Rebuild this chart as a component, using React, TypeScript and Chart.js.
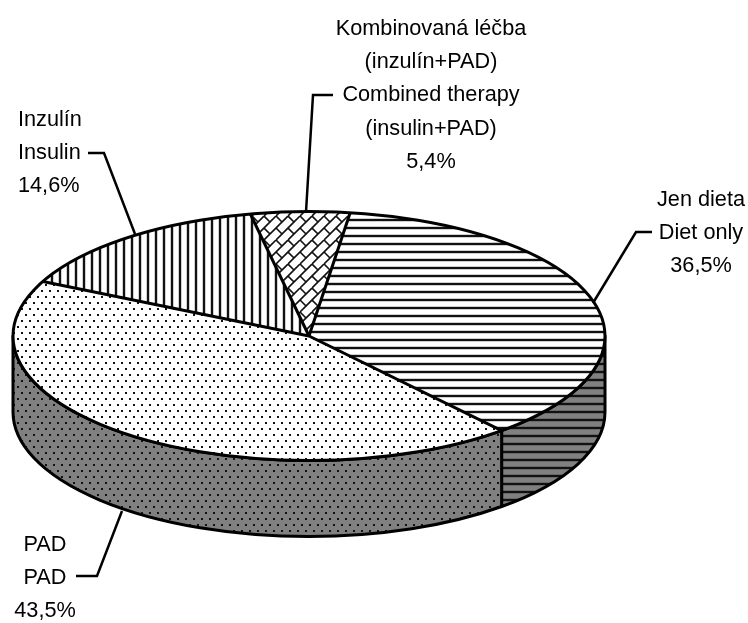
import React, { useEffect, useRef } from "react";
import { Chart, registerables } from "chart.js";

Chart.register(...registerables);

const categories = ["Jen dieta / Diet only", "PAD", "Inzulín / Insulin", "Kombinovaná léčba / Combined therapy"];
const shares = [36.5, 43.5, 14.6, 5.4];
const labelBlocks: { lines: string[]; x: number; y: number; align: CanvasTextAlign }[] = [
  { lines: ["Kombinovaná léčba", "(inzulín+PAD)", "Combined therapy", "(insulin+PAD)", "5,4%"], x: 431, y: 35, align: "center" },
  { lines: ["Inzulín", "Insulin", "14,6%"], x: 18, y: 126, align: "left" },
  { lines: ["Jen dieta", "Diet only", "36,5%"], x: 701, y: 206, align: "center" },
  { lines: ["PAD", "PAD", "43,5%"], x: 45, y: 551, align: "center" },
];
const leaders = [
  [[306, 212], [313, 95], [333, 95]],
  [[135, 234], [104, 153], [88, 153]],
  [[593, 303], [636, 232], [652, 232]],
  [[122, 511], [97, 576], [76, 576]],
];

const SQUASH = 124.5 / 296;
const DEPTH = 76;
const TARGET_Y = 336;

function tile(w: number, h: number, bg: string, draw: (c: CanvasRenderingContext2D) => void) {
  const cv = document.createElement("canvas");
  cv.width = w;
  cv.height = h;
  const c = cv.getContext("2d")!;
  c.fillStyle = bg;
  c.fillRect(0, 0, w, h);
  c.strokeStyle = "#111";
  c.fillStyle = "#111";
  draw(c);
  return c.createPattern(cv, "repeat")!;
}
const hStripes = (bg: string) => tile(8, 8, bg, (c) => { c.lineWidth = 2.4; c.beginPath(); c.moveTo(0, 4); c.lineTo(8, 4); c.stroke(); });
const vStripes = (bg: string) => tile(8, 8, bg, (c) => { c.lineWidth = 2.4; c.beginPath(); c.moveTo(4, 0); c.lineTo(4, 8); c.stroke(); });
const dots = (bg: string) => tile(8, 12, bg, (c) => {
  c.fillRect(1, 2, 2, 2);
  c.fillRect(5, 8, 2, 2);
});
const bricks = (bg: string) => tile(24, 24, bg, (c) => {
  c.lineWidth = 1.6;
  for (const s of [0, 12, 24, 36, 48]) {
    c.beginPath();
    c.moveTo(s - 24, 24);
    c.lineTo(s, 0);
    c.stroke();
  }
  const ticks = [[3, 3], [15, 15], [15, 3], [3, 15]];
  for (const [x, y] of ticks) {
    c.beginPath();
    c.moveTo(x - 3, y - 3);
    c.lineTo(x + 3, y + 3);
    c.stroke();
  }
});

export default function App() {
  const ref = useRef<HTMLCanvasElement>(null);
  useEffect(() => {
    const topPatterns = [hStripes("#fff"), dots("#fff"), vStripes("#fff"), bricks("#fff")];
    const sidePatterns = [hStripes("#808080"), dots("#808080"), vStripes("#808080"), bricks("#808080")];
    const pie3d = {
      id: "pie3d",
      beforeDatasetsDraw(chart: any) {
        const ctx: CanvasRenderingContext2D = chart.ctx;
        const arcs = chart.getDatasetMeta(0).data;
        const { x: cx, outerRadius: rx } = arcs[0];
        const ry = rx * SQUASH;
        ctx.save();
        ctx.lineWidth = 3;
        ctx.strokeStyle = "#000";
        ctx.lineJoin = "round";
        arcs.forEach((arc: any, i: number) => {
          for (const off of [-2 * Math.PI, 0, 2 * Math.PI]) {
            const a0 = Math.max(arc.startAngle + off, 0);
            const a1 = Math.min(arc.endAngle + off, Math.PI);
            if (a1 <= a0) continue;
            ctx.beginPath();
            ctx.ellipse(cx, TARGET_Y, rx, ry, 0, a0, a1);
            ctx.ellipse(cx, TARGET_Y + DEPTH, rx, ry, 0, a1, a0, true);
            ctx.closePath();
            ctx.fillStyle = sidePatterns[i];
            ctx.fill();
            ctx.stroke();
          }
        });
        ctx.restore();
        ctx.save();
        ctx.translate(cx, TARGET_Y);
        ctx.scale(1, SQUASH);
        ctx.translate(-cx, -arcs[0].y);
        const inv = ctx.getTransform().inverse();
        topPatterns.forEach((p) => p.setTransform(inv));
      },
      afterDatasetsDraw(chart: any) {
        const ctx: CanvasRenderingContext2D = chart.ctx;
        ctx.restore();
        const arcs = chart.getDatasetMeta(0).data;
        const { x: cx, outerRadius: rx } = arcs[0];
        const ry = rx * SQUASH;
        ctx.save();
        ctx.lineWidth = 3;
        ctx.strokeStyle = "#000";
        ctx.beginPath();
        ctx.ellipse(cx, TARGET_Y, rx, ry, 0, 0, Math.PI * 2);
        ctx.stroke();
        arcs.forEach((arc: any) => {
          ctx.beginPath();
          ctx.moveTo(cx, TARGET_Y);
          ctx.lineTo(cx + rx * Math.cos(arc.startAngle), TARGET_Y + ry * Math.sin(arc.startAngle));
          ctx.stroke();
        });
        ctx.lineWidth = 2.5;
        for (const pts of leaders) {
          ctx.beginPath();
          pts.forEach(([x, y], i) => (i ? ctx.lineTo(x, y) : ctx.moveTo(x, y)));
          ctx.stroke();
        }
        ctx.fillStyle = "#000";
        ctx.font = '21.7px "Liberation Sans", sans-serif';
        ctx.textBaseline = "alphabetic";
        for (const b of labelBlocks) {
          ctx.textAlign = b.align;
          b.lines.forEach((t, i) => ctx.fillText(t, b.x, b.y + i * 33.2));
        }
        ctx.restore();
      },
    };
    const chart = new Chart(ref.current!, {
      type: "pie",
      data: {
        labels: categories,
        datasets: [{ data: shares, backgroundColor: topPatterns as any, borderWidth: 0 }],
      },
      options: {
        animation: false,
        responsive: false,
        rotation: 8,
        radius: 296,
        layout: { padding: { left: 13, right: 143, top: 16, bottom: 15 } },
        plugins: { legend: { display: false }, tooltip: { enabled: false } },
      } as any,
      plugins: [pie3d as any],
    });
    return () => chart.destroy();
  }, []);
  return (
    <div style={{ position: "absolute", left: 0, top: 0, width: 748, height: 623 }}>
      <canvas ref={ref} width={748} height={623} style={{ display: "block" }} />
    </div>
  );
}
